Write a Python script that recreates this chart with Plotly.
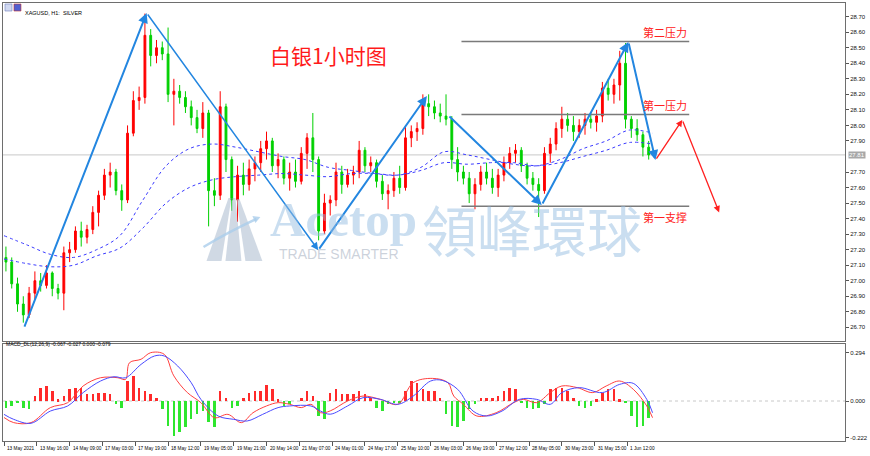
import plotly.graph_objects as go

# ---------------- data (H1 XAGUSD, aggregated 3 bars per candle) ----------------
opens = [27.15,27.12,26.98,26.85,26.78,26.92,27.00,26.97,27.05,26.95,
         26.92,27.18,27.20,27.32,27.28,27.33,27.44,27.55,27.68,27.70,
         27.58,27.52,27.95,28.16,28.18,28.58,28.45,28.50,28.46,28.20,
         28.22,28.18,28.12,28.05,27.98,28.08,27.58,27.55,28.12,27.78,
         27.52,27.68,27.62,27.72,27.76,27.85,27.90,27.74,27.78,27.66,
         27.70,27.64,27.82,27.92,27.78,27.32,27.50,27.52,27.70,27.62,
         27.68,27.70,27.84,27.74,27.76,27.64,27.56,27.58,27.66,27.60,
         27.92,27.96,27.98,28.14,28.12,28.08,28.06,28.04,27.78,27.70,
         27.66,27.56,27.62,27.70,27.66,27.60,27.68,27.76,27.82,27.84,
         27.74,27.66,27.62,27.58,27.82,27.88,27.98,28.04,28.00,27.96,
         28.00,28.04,28.02,28.06,28.24,28.20,28.26,28.40,28.04,27.98,
         27.94,27.86]
highs = [27.22,27.15,27.02,26.90,26.96,27.06,27.05,27.10,27.06,26.98,
         27.22,27.25,27.35,27.38,27.36,27.48,27.58,27.72,27.76,27.72,
         27.62,28.00,28.22,28.25,28.72,28.62,28.55,28.54,28.63,28.30,
         28.26,28.22,28.16,28.10,28.15,28.10,27.66,28.22,28.14,27.80,
         27.74,27.76,27.78,27.80,27.90,27.96,27.92,27.82,27.80,27.76,
         27.78,27.86,27.95,28.08,27.80,27.56,27.55,27.76,27.74,27.72,
         27.74,27.90,27.86,27.80,27.78,27.68,27.62,27.70,27.74,28.00,
         28.00,28.02,28.20,28.20,28.16,28.14,28.20,28.06,27.86,27.74,
         27.70,27.66,27.74,27.76,27.72,27.72,27.80,27.86,27.88,27.86,
         27.76,27.70,27.66,27.86,27.92,28.02,28.12,28.08,28.06,28.04,
         28.08,28.08,28.10,28.28,28.30,28.30,28.48,28.53,28.06,28.04,
         27.96,27.90]
lows = [27.06,26.95,26.80,26.73,26.76,26.88,26.93,26.95,26.90,26.88,
        26.81,27.12,27.18,27.22,27.24,27.30,27.35,27.52,27.60,27.55,
        27.45,27.50,27.93,28.10,28.14,28.38,28.40,28.42,28.15,28.00,
        28.14,28.08,28.00,27.95,27.92,27.35,27.48,27.52,27.70,27.45,
        27.38,27.55,27.58,27.64,27.70,27.78,27.70,27.66,27.62,27.58,
        27.60,27.62,27.72,27.70,27.26,27.30,27.42,27.48,27.56,27.60,
        27.62,27.66,27.70,27.70,27.60,27.52,27.46,27.54,27.56,27.58,
        27.86,27.90,27.94,28.06,28.04,28.02,28.00,27.72,27.64,27.62,
        27.50,27.46,27.58,27.62,27.56,27.54,27.64,27.72,27.76,27.70,
        27.62,27.58,27.41,27.56,27.76,27.84,27.92,27.96,27.90,27.92,
        27.94,27.98,27.96,28.02,28.16,28.14,28.16,27.98,27.92,27.90,
        27.80,27.78]
closes = [27.12,26.98,26.85,26.78,26.92,27.00,26.97,27.05,26.95,26.92,
          27.18,27.20,27.32,27.28,27.33,27.44,27.55,27.68,27.70,27.58,
          27.52,27.95,28.16,28.18,28.58,28.45,28.50,28.46,28.20,28.22,
          28.18,28.12,28.05,27.98,28.08,27.58,27.55,28.12,27.78,27.52,
          27.68,27.62,27.72,27.76,27.85,27.90,27.74,27.78,27.66,27.70,
          27.64,27.82,27.92,27.78,27.32,27.50,27.52,27.70,27.62,27.68,
          27.70,27.84,27.74,27.76,27.64,27.56,27.58,27.66,27.60,27.92,
          27.96,27.98,28.14,28.12,28.08,28.06,28.04,27.78,27.70,27.66,
          27.56,27.62,27.70,27.66,27.60,27.68,27.76,27.82,27.84,27.74,
          27.66,27.62,27.58,27.82,27.88,27.98,28.04,28.00,27.96,28.00,
          28.04,28.02,28.06,28.24,28.20,28.26,28.40,28.04,27.98,27.94,
          27.86,27.81]

ma_bars = [0,12,24,36,48,60,72,84,96,108,120,132,144,156,168,180,192,204,216,228,240,252,264,276,288,300,312,324,336]
ma_fast = [27.29,27.23,27.17,27.15,27.20,27.29,27.52,27.74,27.85,27.88,27.86,27.83,27.80,27.78,27.73,27.71,27.69,27.68,27.73,27.83,27.81,27.78,27.75,27.74,27.78,27.85,27.90,27.97,27.95]
ma_slow = [27.14,27.11,27.09,27.10,27.16,27.21,27.34,27.50,27.60,27.65,27.67,27.68,27.69,27.68,27.67,27.69,27.69,27.68,27.71,27.76,27.75,27.76,27.76,27.74,27.76,27.80,27.84,27.89,27.88]

macd_hist = [-0.04,-0.03,-0.01,-0.04,-0.05,0.03,0.08,0.09,0.06,0.01,
             0.03,0.07,0.08,0.08,0.04,0.04,0.05,0.05,0.04,-0.02,
             -0.04,0.12,0.15,0.08,0.06,0.04,0.02,-0.05,-0.15,-0.21,
             -0.19,-0.16,-0.11,-0.08,-0.06,-0.13,-0.16,0.06,0.02,-0.04,
             -0.03,0.02,0.05,0.06,0.06,0.10,0.07,0.01,-0.03,-0.02,
             0.00,0.02,0.06,0.03,-0.09,-0.11,0.05,0.07,0.04,0.04,
             0.04,0.06,0.04,0.02,-0.04,-0.06,-0.02,-0.01,-0.01,0.06,
             0.12,0.11,0.07,0.06,0.06,0.02,-0.08,-0.15,-0.16,-0.12,
             -0.05,-0.02,0.02,0.02,0.02,0.03,0.06,0.08,0.07,-0.01,
             -0.04,-0.05,-0.04,-0.02,0.07,0.08,0.08,0.06,0.02,-0.03,
             -0.04,-0.03,0.01,0.05,0.07,0.07,0.01,-0.01,-0.09,-0.16,
             -0.15,-0.10]
macd_bars = [0,5,14,24,33,41,50,59,63,65,71,76,83,88,95,102,109,116,123,129,
             136,142,148,154,159,164,169,178,186,195,204,212,222,230,233,238,245,255,264,269,
             276,283,289,297,305,312,319,326,333,336]
macd_line = [-0.10,-0.131,-0.131,-0.04,-0.01,0.091,0.141,0.141,0.131,0.232,
             0.253,0.293,0.283,0.152,0.051,-0.01,-0.101,-0.081,-0.131,-0.071,
             -0.03,-0.01,-0.02,-0.04,-0.02,-0.071,-0.06,0.0,0.03,0.01,
             -0.02,0.111,0.137,0.111,0.03,-0.02,-0.091,-0.071,-0.01,0.01,
             -0.01,0.051,0.091,0.081,0.051,0.091,0.121,0.071,-0.03,-0.101]
signal_bars = [0,5,14,24,33,41,50,57,63,71,78,83,90,97,102,111,119,126,134,142,
               148,159,164,169,178,186,195,204,212,221,227,235,243,250,258,267,276,283,289,298,
               310,319,326,333,336]
signal_line = [-0.081,-0.111,-0.135,-0.061,-0.03,0.051,0.121,0.147,0.141,0.222,
               0.273,0.273,0.212,0.111,0.01,-0.091,-0.111,-0.121,-0.081,-0.04,
               -0.03,-0.03,-0.061,-0.08,-0.03,0.02,0.01,-0.02,0.03,0.121,
               0.125,0.071,-0.061,-0.091,-0.061,0.01,0.01,-0.02,0.051,0.081,
               0.051,0.101,0.107,0.01,-0.071]

time_bars = [0,17,34,51,68,85,102,119,136,153,170,187,204,221,238,255,272,289,306,323]
time_labels = ["13 May 2021","13 May 16:00","14 May 09:00","17 May 03:00","17 May 19:00",
               "18 May 12:00","19 May 05:00","19 May 21:00","20 May 14:00","21 May 07:00",
               "24 May 01:00","24 May 17:00","25 May 10:00","26 May 03:00","26 May 19:00",
               "27 May 12:00","28 May 05:00","30 May 23:00","31 May 15:00","1 Jun 12:00"]
price_ticks = [26.70,26.80,26.90,27.00,27.10,27.20,27.30,27.40,27.50,27.60,27.70,
               27.90,28.00,28.10,28.20,28.30,28.40,28.50,28.60,28.70]
last_price = 27.81

# analysis drawings
zig_bars = [10.3, 73.9, 162.8, 219.1]
zig_prices = [26.695, 28.724, 27.197, 28.19]
zig2_bars = [230.0, 278.6, 323.5, 337.5]
zig2_prices = [28.067, 27.487, 28.537, 27.777]
fcst_bars = [337.5, 351.4, 370.5]
fcst_prices = [27.777, 28.035, 27.44]
levels = [28.54, 28.07, 27.48]
level_names = ["第二压力", "第一压力", "第一支撑"]
level_start, level_end = 237, 355

# ---------------- figure ----------------
W, H = 870, 456
ML, MR, MT, MB = 2, 24, 3, 15
PW, PH = W - ML - MR, H - MT - MB
def pxx(x): return (x - ML) / PW
def pyy(y): return (H - MB - y) / PH

bar_x = [3 * i + 1 for i in range(len(closes))]
UP, DN = "#ff0000", "#00d000"
BLUE = "#2386e0"

fig = go.Figure()
fig.add_trace(go.Scatter(x=ma_bars, y=ma_fast, mode="lines", line=dict(color="#3b3bff", width=1, dash="dot", shape="spline"),
                         hoverinfo="skip", showlegend=False))
fig.add_trace(go.Scatter(x=ma_bars, y=ma_slow, mode="lines", line=dict(color="#3b3bff", width=1, dash="dot", shape="spline"),
                         hoverinfo="skip", showlegend=False))
fig.add_trace(go.Candlestick(x=bar_x, open=opens, high=highs, low=lows, close=closes,
                             increasing=dict(line=dict(color=UP, width=1), fillcolor=UP),
                             decreasing=dict(line=dict(color=DN, width=1), fillcolor=DN),
                             whiskerwidth=0, showlegend=False, hoverinfo="skip"))

fig.add_trace(go.Bar(x=bar_x, y=macd_hist, width=1.3,
                     marker=dict(color=["#ff2a2a" if v >= 0 else "#2ee62e" for v in macd_hist], line=dict(width=0)),
                     xaxis="x2", yaxis="y2", showlegend=False, hoverinfo="skip"))
fig.add_trace(go.Scatter(x=macd_bars, y=macd_line, mode="lines", line=dict(color="#ff4040", width=1, shape="spline"),
                         xaxis="x2", yaxis="y2", showlegend=False, hoverinfo="skip"))
fig.add_trace(go.Scatter(x=signal_bars, y=signal_line, mode="lines", line=dict(color="#4a4aff", width=1, shape="spline"),
                         xaxis="x2", yaxis="y2", showlegend=False, hoverinfo="skip"))

shapes = []
shapes.append(dict(type="line", xref="paper", yref="y", x0=0, x1=1, y0=last_price, y1=last_price,
                   line=dict(color="#c8c8c8", width=1), layer="below"))
shapes.append(dict(type="line", xref="paper", yref="y2", x0=0, x1=1, y0=0, y1=0,
                   line=dict(color="#c8c8c8", width=1, dash="dot"), layer="below"))
for lv in levels:
    shapes.append(dict(type="line", xref="x", yref="y", x0=level_start, x1=level_end, y0=lv, y1=lv,
                       line=dict(color="#7a7a7a", width=1.5)))
def path(pts):
    return "M " + " L ".join(f"{pxx(a):.5f},{pyy(b):.5f}" for a, b in pts) + " Z"
for pts in ([(206, 261), (221, 261), (231, 198), (228, 198)],
            [(225, 261), (241, 261), (235, 198), (232, 198)],
            [(245, 261), (262, 261), (239, 199), (236, 199)]):
    shapes.append(dict(type="path", xref="paper", yref="paper", path=path(pts),
                       fillcolor="rgba(170,185,205,0.55)", line=dict(width=0)))
shapes.append(dict(type="path", xref="paper", yref="paper",
                   path=f"M {pxx(203):.5f},{pyy(247):.5f} Q {pxx(228):.5f},{pyy(232):.5f} {pxx(256):.5f},{pyy(219):.5f}",
                   line=dict(color="rgba(170,205,235,0.8)", width=2.5)))
shapes.append(dict(type="path", xref="paper", yref="paper", path=path([(252, 216), (260, 217), (255, 223)]),
                   fillcolor="rgba(170,205,235,0.8)", line=dict(width=0)))
shapes.append(dict(type="rect", xref="paper", yref="paper", x0=pxx(4), x1=pxx(11), y0=pyy(11), y1=pyy(4),
                   fillcolor="#d0d8f0", line=dict(color="#7080c0", width=0.6)))
shapes.append(dict(type="rect", xref="paper", yref="paper", x0=pxx(13), x1=pxx(20), y0=pyy(11), y1=pyy(4),
                   fillcolor="#5060d0", line=dict(color="#c03030", width=0.6)))

ann = []
def arrow(x0, y0, x1, y1, color, width):
    ann.append(dict(x=x1, y=y1, ax=x0, ay=y0, xref="x", yref="y", axref="x", ayref="y", text="",
                    showarrow=True, arrowhead=2, arrowsize=1, arrowwidth=width, arrowcolor=color))
for i in range(len(zig_bars) - 1):
    arrow(zig_bars[i], zig_prices[i], zig_bars[i + 1], zig_prices[i + 1], BLUE, 1.5 if i == 1 else 2)
for i in range(len(zig2_bars) - 1):
    arrow(zig2_bars[i], zig2_prices[i], zig2_bars[i + 1], zig2_prices[i + 1], BLUE, 2)
for i in range(len(fcst_bars) - 1):
    arrow(fcst_bars[i], fcst_prices[i], fcst_bars[i + 1], fcst_prices[i + 1], "#ff2020", 1.3)

for lv, name, i in zip(levels, level_names, range(3)):
    ann.append(dict(x=level_end, y=lv, xref="x", yref="y", text=name, showarrow=False,
                    xanchor="right", yanchor="top" if i == 2 else "bottom", yshift=-1 if i == 2 else 0,
                    font=dict(family="Noto Sans CJK SC", size=11, color="#ff2020")))

ann.append(dict(x=168, y=28.453, xref="x", yref="y", text="白银1小时图", showarrow=False,
                font=dict(family="Noto Sans CJK SC", size=21, color="#ff1a1a")))

ann.append(dict(x=pxx(343), y=pyy(219), xref="paper", yref="paper", text="<b>Acetop</b>", showarrow=False,
                font=dict(family="Liberation Serif", size=49, color="rgba(150,190,225,0.5)")))
ann.append(dict(x=pxx(532), y=pyy(228), xref="paper", yref="paper", text="領峰環球", showarrow=False,
                font=dict(family="Noto Sans CJK TC", size=55, color="rgba(150,190,225,0.5)")))
ann.append(dict(x=pxx(339), y=pyy(254), xref="paper", yref="paper", text="TRADE SMARTER", showarrow=False,
                font=dict(family="Liberation Sans", size=14, color="rgba(170,180,195,0.6)")))

ann.append(dict(x=pxx(22), y=pyy(7.5), xref="paper", yref="paper", text="XAGUSD, H1:  SILVER", showarrow=False,
                xanchor="left", font=dict(family="Liberation Sans", size=5.5, color="#000")))
ann.append(dict(x=pxx(3), y=pyy(349), xref="paper", yref="paper",
                text="MACD_DL(12,26,9) -0.067 -0.027 0.000 -0.079", showarrow=False,
                xanchor="left", font=dict(family="Liberation Sans", size=5, color="#000")))
for b, t in zip(time_bars, time_labels):
    ann.append(dict(x=b, y=0, xref="x2", yref="paper", text=t, showarrow=False, xanchor="left", yanchor="top",
                    xshift=1, yshift=-3, font=dict(family="Liberation Sans", size=4.7, color="#000")))
ann.append(dict(x=1, y=last_price, xref="paper", yref="y", text=f"{last_price:.2f}", showarrow=False,
                xanchor="left", xshift=3, bgcolor="#a8a8a8", borderpad=0,
                font=dict(family="Liberation Sans", size=6, color="#ffffff")))

axis_common = dict(showgrid=False, zeroline=False, showline=True, mirror=True, linecolor="#6e6e6e", linewidth=1)
fig.update_layout(
    width=W, height=H, margin=dict(l=ML, r=MR, t=MT, b=MB),
    paper_bgcolor="white", plot_bgcolor="white", showlegend=False, bargap=0, boxgap=0.55,
    xaxis=dict(domain=[0, 1], range=[-0.52, 435.7], anchor="y", showticklabels=False, ticks="",
               rangeslider=dict(visible=False), **axis_common),
    xaxis2=dict(domain=[0, 1], range=[-0.52, 435.7], anchor="y2", matches="x", tickvals=time_bars,
                ticks="outside", ticklen=4, tickcolor="#555", showticklabels=False, **axis_common),
    yaxis=dict(domain=[pyy(341), 1], range=[26.612, 28.788], side="right", tickvals=price_ticks,
               tickformat=".2f", ticks="outside", ticklen=3, tickcolor="#555",
               tickfont=dict(family="Liberation Sans", size=6, color="#111"), **axis_common),
    yaxis2=dict(domain=[0, pyy(344)], range=[-0.2424, 0.3455], side="right", tickvals=[0.294, 0.0, -0.222],
                ticktext=["0.294", "0.000", "-0.222"], ticks="outside", ticklen=3, tickcolor="#555",
                tickfont=dict(family="Liberation Sans", size=6, color="#111"), **axis_common),
    shapes=shapes, annotations=ann,
)
fig.write_html("out.html", config={"displayModeBar": False},
               post_script="document.body.style.margin='0px';document.body.style.padding='0px';")
